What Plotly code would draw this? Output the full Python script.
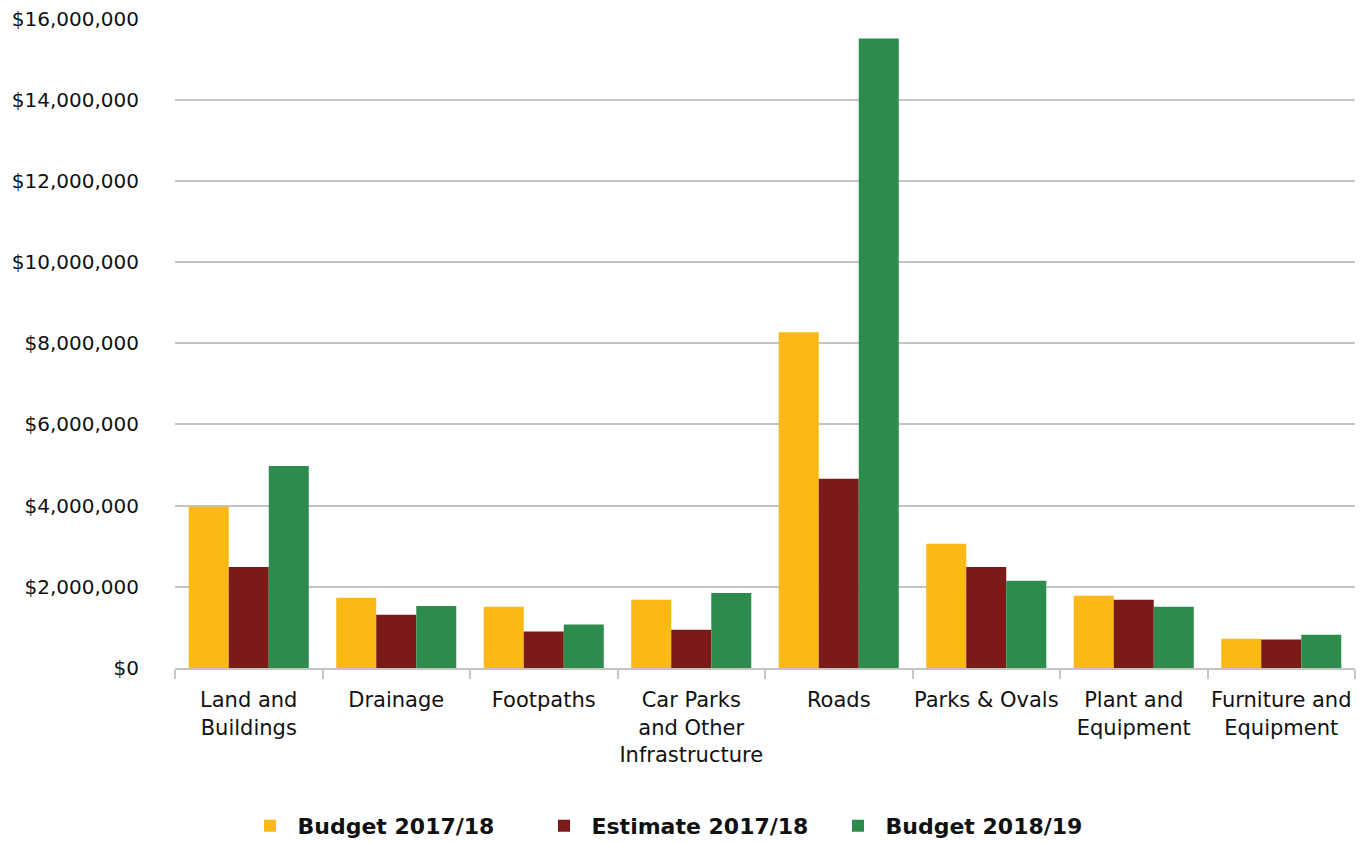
import plotly.graph_objects as go

categories = ["Land and<br>Buildings", "Drainage", "Footpaths",
              "Car Parks<br>and Other<br>Infrastructure", "Roads",
              "Parks & Ovals", "Plant and<br>Equipment", "Furniture and<br>Equipment"]
budget_2017 = [3970000, 1730000, 1510000, 1680000, 8270000, 3060000, 1780000, 720000]
estimate_2017 = [2490000, 1310000, 900000, 940000, 4660000, 2490000, 1680000, 700000]
budget_2018 = [4980000, 1530000, 1070000, 1850000, 15510000, 2150000, 1510000, 820000]
series_names = ["Budget 2017/18", "Estimate 2017/18", "Budget 2018/19"]
colors = ["#FBB915", "#7A1B17", "#2E8B4E"]
y_ticks = [0, 2000000, 4000000, 6000000, 8000000, 10000000, 12000000, 14000000, 16000000]
y_tick_labels = ["$0", "$2,000,000", "$4,000,000", "$6,000,000", "$8,000,000",
                 "$10,000,000", "$12,000,000", "$14,000,000", "$16,000,000"]

FONT = "DejaVu Sans, Verdana, sans-serif"

fig = go.Figure()
for name, vals, col in zip(series_names, [budget_2017, estimate_2017, budget_2018], colors):
    fig.add_trace(go.Bar(name=name, x=categories, y=vals, marker_color=col,
                         marker_line_width=0))

fig.update_layout(
    width=1367, height=843,
    margin=dict(l=175, r=12, t=18, b=175),
    plot_bgcolor="white", paper_bgcolor="white",
    barmode="group", bargap=0.186, bargroupgap=0,
    font=dict(family=FONT, size=21, color="#111111"),
    showlegend=True,
    legend=dict(orientation="h", xref="container", yref="container",
                x=0.5, xanchor="center", y=1 - 826 / 843, yanchor="middle",
                font=dict(family=FONT, size=22, color="#111111", weight="bold"),
                itemwidth=45, tracegroupgap=0,
                entrywidth=234, entrywidthmode="pixels"),
)
fig.update_yaxes(range=[0, 16015000], tickvals=y_ticks, ticktext=y_tick_labels,
                 automargin=False,
                 showgrid=True, gridcolor="#C4C4C4", gridwidth=2,
                 zeroline=False, showline=False,
                 ticks="outside", ticklen=31, tickcolor="rgba(0,0,0,0)",
                 tickfont=dict(family=FONT, size=20, color="#111111"))
fig.update_xaxes(showline=True, linecolor="#C4C4C4", linewidth=2, automargin=False,
                 ticks="outside", tickson="boundaries", ticklen=9, tickwidth=2,
                 tickcolor="#C8C8C8", ticklabelstandoff=12, tickangle=0,
                 tickfont=dict(family=FONT, size=21, color="#111111"))

fig.write_html("out.html", config={"displayModeBar": False},
               post_script="document.body.style.margin='0';")
